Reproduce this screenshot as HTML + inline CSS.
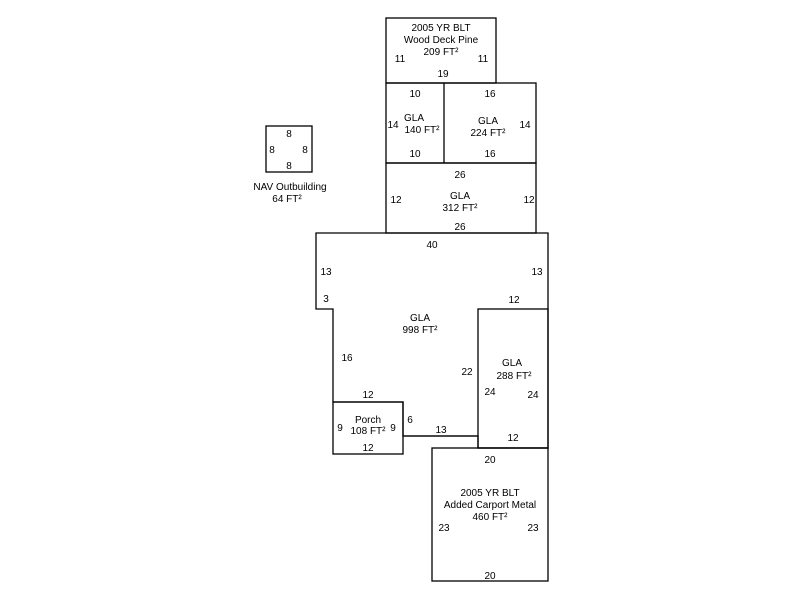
<!DOCTYPE html>
<html><head><style>html,body{margin:0;padding:0;background:#fff}svg{display:block}text{font-family:"Liberation Sans",Arial,sans-serif;font-size:10px;fill:#000;text-anchor:middle}</style></head>
<body>
<svg width="800" height="600" viewBox="0 0 800 600" xmlns="http://www.w3.org/2000/svg">
<g fill="none" stroke="#000" stroke-width="1.3">
<rect x="266" y="126" width="46" height="46"/>
<rect x="386" y="18" width="110" height="65"/>
<rect x="386" y="83" width="150" height="80"/>
<line x1="444" y1="83" x2="444" y2="163"/>
<rect x="386" y="163" width="150" height="70"/>
<polyline points="478,436 403,436"/>
<polygon points="316,233 548,233 548,448 478,448 478,436 403,436 403,402 333,402 333,309 316,309"/>
<rect x="478" y="309" width="70" height="139"/>
<rect x="333" y="402" width="70" height="52"/>
<rect x="432" y="448" width="116" height="133"/>
</g>
<text x="289" y="137">8</text><text x="272" y="153">8</text><text x="305" y="153">8</text><text x="289" y="169">8</text>
<text x="290" y="190">NAV Outbuilding</text><text x="287" y="202">64 FT²</text>
<text x="441" y="31">2005 YR BLT</text><text x="441" y="43">Wood Deck Pine</text><text x="441" y="55">209 FT²</text>
<text x="400" y="62">11</text><text x="483" y="62">11</text><text x="443" y="77">19</text>
<text x="415" y="97">10</text><text x="393" y="128">14</text><text x="414" y="121">GLA</text><text x="422" y="133">140 FT²</text><text x="415" y="157">10</text>
<text x="490" y="97">16</text><text x="488" y="124">GLA</text><text x="488" y="136">224 FT²</text><text x="525" y="128">14</text><text x="490" y="157">16</text>
<text x="460" y="178">26</text><text x="396" y="203">12</text><text x="460" y="199">GLA</text><text x="460" y="211">312 FT²</text><text x="529" y="203">12</text><text x="460" y="230">26</text>
<text x="432" y="248">40</text><text x="326" y="275">13</text><text x="537" y="275">13</text><text x="326" y="302">3</text><text x="514" y="303">12</text>
<text x="420" y="321">GLA</text><text x="420" y="333">998 FT²</text><text x="347" y="361">16</text><text x="467" y="375">22</text>
<text x="512" y="366">GLA</text><text x="514" y="379">288 FT²</text><text x="490" y="395">24</text><text x="533" y="398">24</text><text x="513" y="441">12</text>
<text x="368" y="398">12</text><text x="368" y="423">Porch</text><text x="368" y="434">108 FT²</text><text x="340" y="431">9</text><text x="393" y="431">9</text><text x="410" y="423">6</text><text x="441" y="433">13</text><text x="368" y="451">12</text>
<text x="490" y="463">20</text><text x="490" y="496">2005 YR BLT</text><text x="490" y="508">Added Carport Metal</text><text x="490" y="520">460 FT²</text>
<text x="444" y="531">23</text><text x="533" y="531">23</text><text x="490" y="579">20</text>
</svg>
</body></html>
